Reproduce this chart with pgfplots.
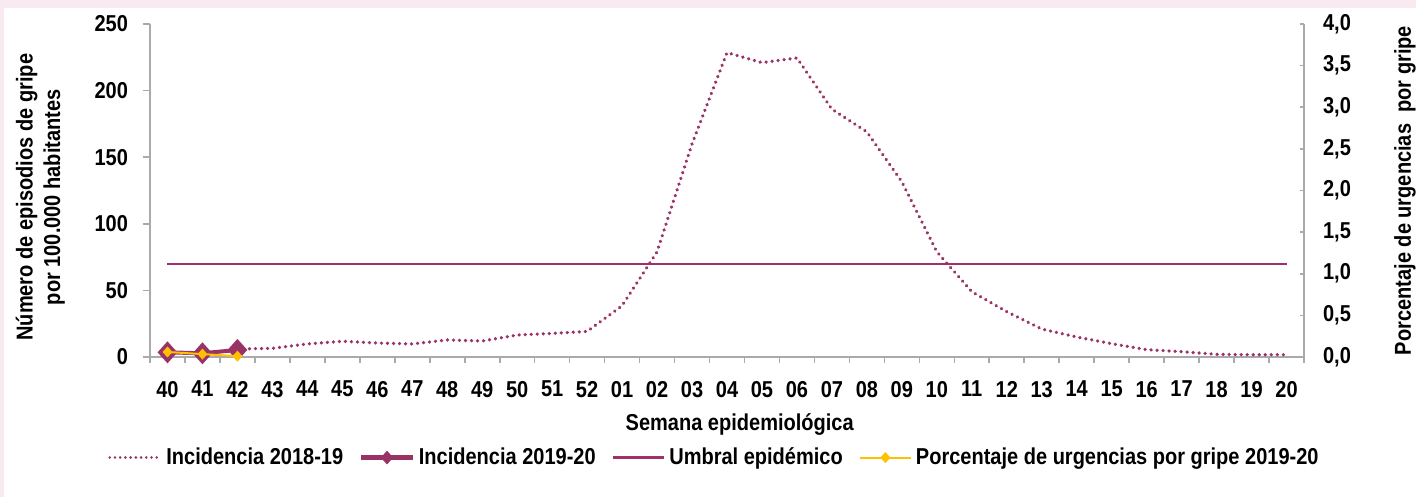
\documentclass[border=0pt]{standalone}
\usepackage{pgfplots}
\pgfplotsset{compat=1.18}
\usepackage{fontspec}
\setmainfont{Liberation Sans}[FakeStretch=0.87]
\definecolor{bgpink}{RGB}{249,233,240}
\definecolor{plum}{RGB}{153,51,102}
\definecolor{umb}{RGB}{160,48,105}
\definecolor{yel}{RGB}{255,192,0}
\definecolor{axisgray}{RGB}{170,170,170}
\tikzset{
  myfont/.style={font=\bfseries\fontsize{11.5}{13.5}\selectfont},
}
\begin{document}
\begin{tikzpicture}
\fill[bgpink] (0,0) rectangle (708pt,248.5pt);
\fill[white] (2pt,0) rectangle (708pt,244.5pt);
\useasboundingbox (0,0) rectangle (708pt,248.5pt);
\begin{axis}[
  at={(75pt,70pt)}, anchor=south west,
  scale only axis, width=577pt, height=166.5pt,
  xmin=-0.5, xmax=32.5, ymin=0, ymax=250,
  axis x line*=bottom, axis y line*=left,
  axis line style={draw=axisgray, line width=0.8pt},
  xtick={0,...,32},
  xticklabels={40,41,42,43,44,45,46,47,48,49,50,51,52,01,02,03,04,05,06,07,08,09,10,11,12,13,14,15,16,17,18,19,20},
  major x tick style={draw=none},
  minor xtick={-0.5,0.5,...,32.5},
  minor tick length=3pt, major tick length=3.5pt,
  tick align=outside,
  tick style={draw=axisgray, line width=0.8pt},
  ytick={0,50,...,250},
  /pgf/number format/assume math mode=true,
  tick label style={myfont},
  xticklabel style={yshift=-5pt},
  yticklabel style={xshift=-4pt},
  xlabel={Semana epidemiológica},
  xlabel style={myfont, at={(axis description cs:0.511,-0.204)}, anchor=center},
  ylabel={\shortstack{Número de episodios de gripe\\por 100.000 habitantes}},
  ylabel style={myfont, at={(axis description cs:-0.095,0.48)}, anchor=center, rotate=0},
  legend columns=4,
  legend style={draw=none, fill=none, myfont, at={(axis description cs:0.490,-0.302)}, anchor=center,
    /tikz/every even column/.append style={column sep=6pt}},
  legend cell align=left,
  legend image code/.code={\draw[mark repeat=2,mark phase=2,#1] plot coordinates {(0cm,0cm) (0.45cm,0cm) (0.9cm,0cm)};},
]
\addlegendimage{draw=plum, color=plum, line width=1.4pt, line cap=round, dash pattern=on 0.01pt off 2.6pt}
\addlegendentry{Incidencia 2018-19}
\addlegendimage{draw=plum, color=plum, line width=2.2pt, mark=diamond*, mark size=1.8pt, mark options={solid, xscale=1.2}}
\addlegendentry{Incidencia 2019-20}
\addlegendimage{draw=umb, color=umb, line width=1.2pt}
\addlegendentry{Umbral epidémico}
\addlegendimage{draw=yel, color=yel, line width=1pt, mark=diamond*, mark size=2pt, mark options={xscale=1.2}}
\addlegendentry{Porcentaje de urgencias por gripe 2019-20}
\addplot[forget plot, color=plum, line width=1.8pt, line cap=round, dash pattern=on 0.01pt off 3pt] coordinates {
(2,6.0) (3,6.5) (4,9.8) (5,11.8) (6,10.5) (7,9.8) (8,12.8) (9,12.0) (10,16.5) (11,17.7) (12,19.2)
(13,38.5) (14,79) (15,160) (16,228.5) (17,221) (18,224.5) (19,186) (20,169) (21,131.5) (22,79)
(23,49) (24,34) (25,21) (26,15) (27,10) (28,5.5) (29,4) (30,2) (31,1.7) (32,1.7)};
\addplot[forget plot, color=plum, line width=2pt, mark=diamond*, mark size=4pt, mark options={solid, xscale=1.2}] coordinates {
(0,3.5) (1,2.8) (2,5.3)};
\addplot[forget plot, color=umb, line width=0.9pt] coordinates {(0,70) (32,70)};
\end{axis}
\begin{axis}[
  at={(75pt,70pt)}, anchor=south west,
  scale only axis, width=577pt, height=166.5pt,
  xmin=-0.5, xmax=32.5, ymin=0, ymax=4,
  axis x line=none, axis y line*=right,
  axis line style={draw=axisgray, line width=0.8pt},
  ytick={0,0.5,...,4},
  tick align=inside, major tick length=2pt,
  tick style={draw=axisgray, line width=0.8pt},
  /pgf/number format/assume math mode=true,
  yticklabel={\pgfmathprintnumber[fixed, fixed zerofill, precision=1, use comma]{\tick}},
  tick label style={myfont},
  yticklabel style={xshift=6pt},
  ylabel={Porcentaje de urgencias \ por gripe},
  ylabel style={myfont, at={(axis description cs:1.0875,0.5)}, anchor=center, rotate=0},
]
\addplot[color=yel, line width=1pt, mark=diamond*, mark size=2pt, mark options={xscale=1.2}] coordinates {
(0,0.06) (1,0.035) (2,0.01)};
\end{axis}
\end{tikzpicture}
\end{document}
